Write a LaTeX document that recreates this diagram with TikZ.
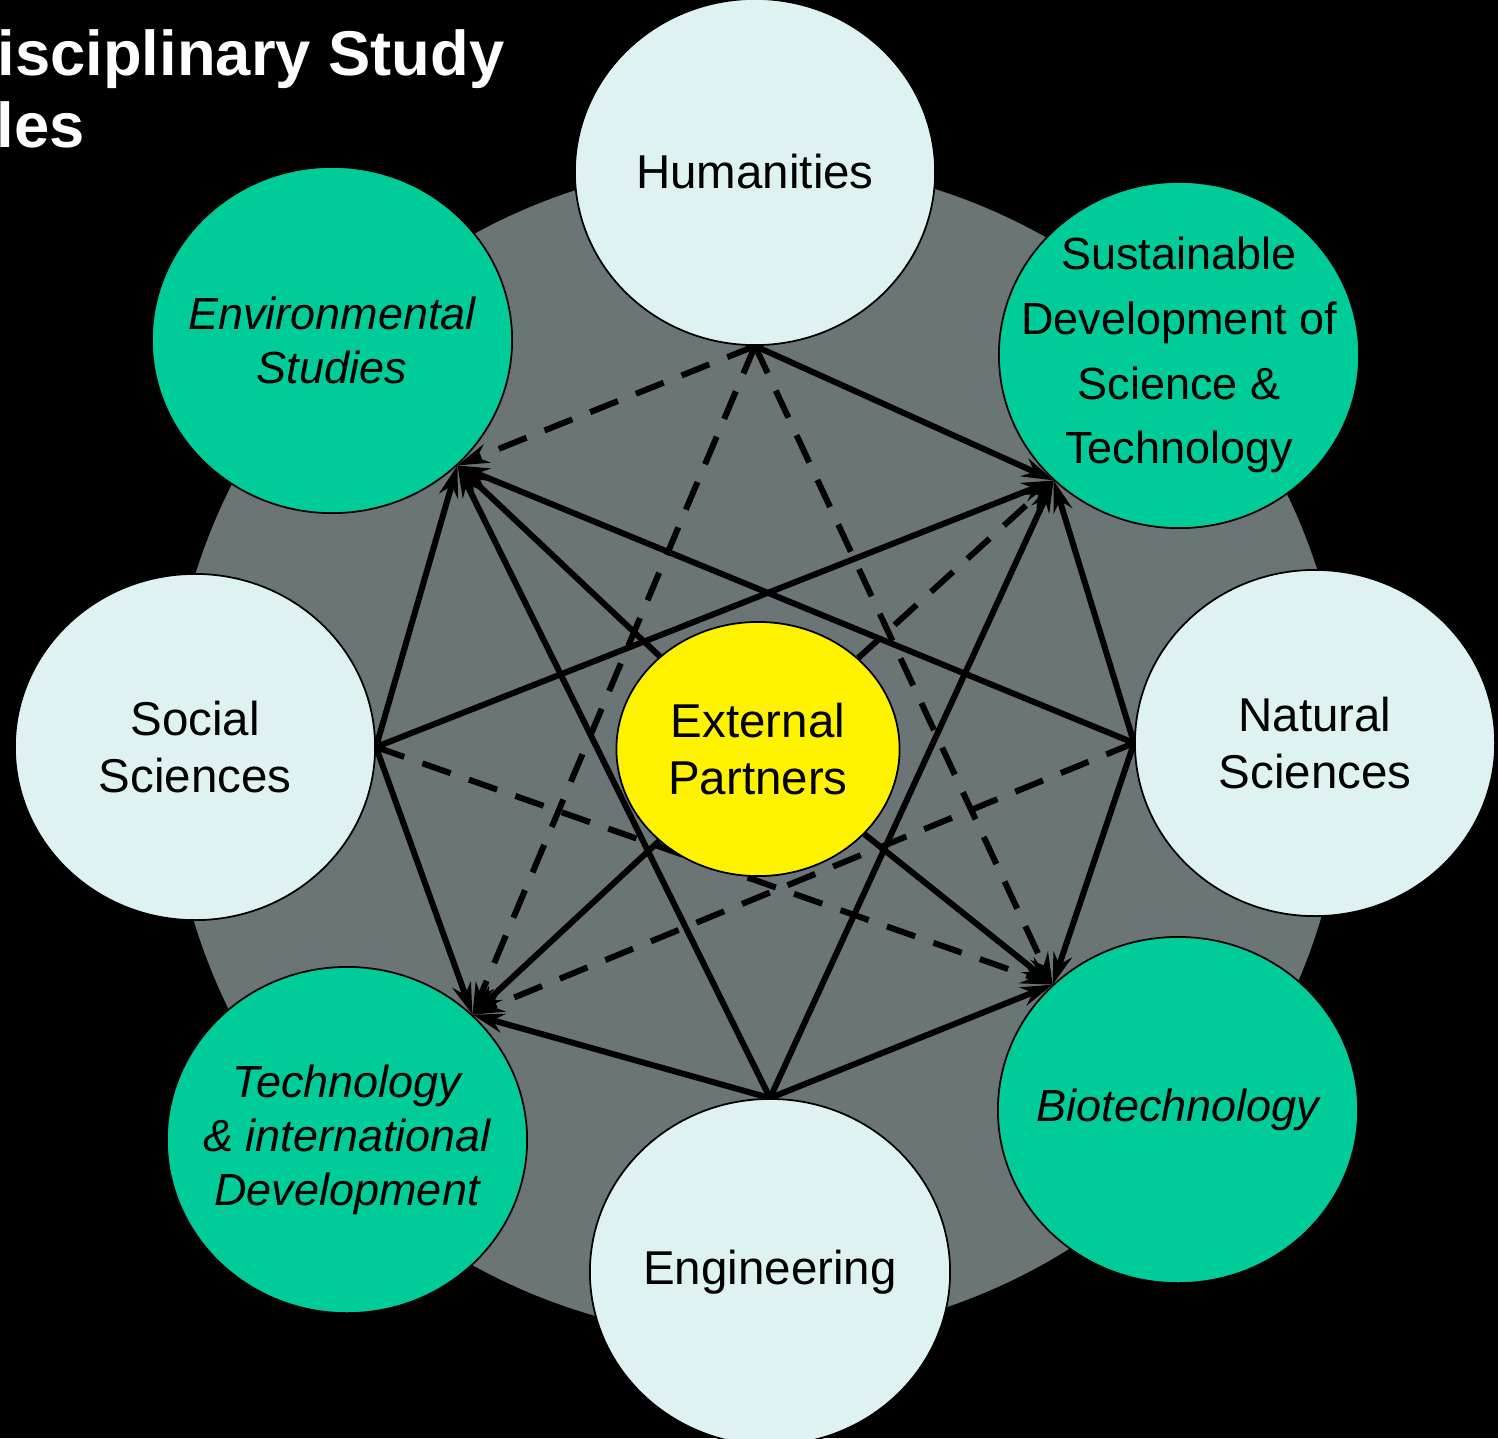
\documentclass[tikz,border=0pt]{standalone}
\usepackage{fontspec}
\setmainfont{Liberation Sans}
\usetikzlibrary{arrows.meta,shapes.geometric,backgrounds}

\definecolor{slate}{RGB}{108,117,117}
\definecolor{paleblue}{RGB}{223,242,242}
\definecolor{seagreen}{RGB}{0,204,153}

\begin{document}
\begin{tikzpicture}[%
	x=0.01cm,y=-0.01cm,>={Stealth[length=9pt,width=5.5pt,inset=3pt]},
	disc/.style={ellipse,draw=black,line width=0.5pt,inner sep=0pt,
		minimum width=3.6cm,minimum height=3.46cm},
	softdisc/.style={disc,fill=paleblue},
	greendisc/.style={disc,fill=seagreen},
	partnerdisc/.style={ellipse,draw=black,line width=0.5pt,inner sep=0pt,
		fill=yellow,minimum width=2.83cm,minimum height=2.54cm},
	softtext/.style={align=center,font=\fontsize{13.5}{16.2}\selectfont},
	greentext/.style={align=center,font=\itshape\fontsize{12.8}{15.4}\selectfont},
	titletext/.style={text=white,inner sep=0pt,font=\bfseries\fontsize{18}{21}\selectfont},
	arrowline/.style={->,line width=0.06cm},
	dashline/.style={dash pattern=on 8.5pt off 5.5pt}]

	\useasboundingbox (0,0) rectangle (1498,1438);

	\node[titletext,anchor=base west]	(T1)	at (-3,75)	{isciplinary Study};
	\node[titletext,anchor=base west]	(T2)	at (-4,147)	{les};

	% disciplines round the ring
	\node[softdisc]		(H)		at (755,172)	{};
	\node[greendisc]	(SD)	at (1179,355)	{};
	\node[softdisc]		(NS)	at (1315,743)	{};
	\node[greendisc]	(BT)	at (1178,1110)	{};
	\node[softdisc]		(E)		at (770,1272)	{};
	\node[greendisc]	(TID)	at (347,1140)	{};
	\node[softdisc]		(SS)	at (195,747)	{};
	\node[greendisc]	(ES)	at (332,340)	{};
	\node[partnerdisc]	(EP)	at (758,749)	{};

	\node[softtext]		(Hl)	at (H)		{Humanities};
	\node[align=center,font=\fontsize{12.8}{18.4}\selectfont]	(SDl)	at (SD)
		{Sustainable\\Development of\\Science \&\\Technology};
	\node[softtext]		(NSl)	at (NS)		{Natural\\Sciences};
	\node[greentext]	(BTl)	at (BT)		{Biotechnology};
	\node[softtext]		(El)	at (E)		{Engineering};
	\node[greentext]	(TIDl)	at (TID)	{Technology\\\& international\\Development};
	\node[softtext]		(SSl)	at (SS)		{Social\\Sciences};
	\node[greentext]	(ESl)	at (ES)		{Environmental\\Studies};
	\node[softtext]		(EPl)	at (EP)		{External\\Partners};

	\begin{scope}[on background layer]
	\fill[black] (0,0) rectangle (1498,1438);
	\fill[slate] (757,750) circle [radius=5.88cm];

	\path[arrowline] (H.south)	edge			(SD.225)
								edge[dashline]	(ES.-45)
								edge[dashline]	(TID.45)
								edge[dashline]	(BT.135);
	\path[arrowline] (SS.east)	edge			(ES.-45)
								edge			(SD.225)
								edge			(TID.45)
								edge[dashline]	(BT.135);
	\path[arrowline] (NS.west)	edge			(ES.-45)
								edge			(SD.225)
								edge			(BT.135)
								edge[dashline]	(TID.45);
	\path[arrowline] (E.north)	edge			(ES.-45)
								edge			(SD.225)
								edge			(TID.45)
								edge			(BT.135);
	\path[arrowline] (EP)		edge			(ES.-45)
								edge[dashline]	(SD.225)
								edge			(TID.45)
								edge			(BT.135);
	\end{scope}

\end{tikzpicture}
\end{document}
